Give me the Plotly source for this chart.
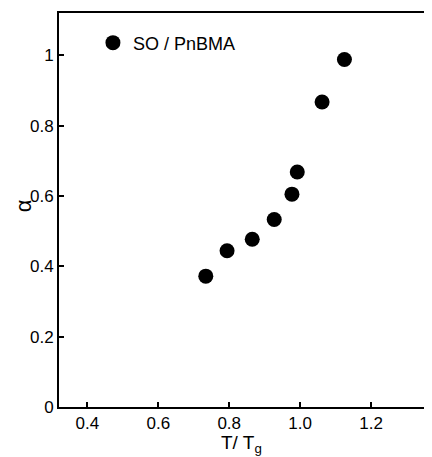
import plotly.graph_objects as go

t_ratio = [0.734, 0.794, 0.865, 0.927, 0.977, 0.992, 1.062, 1.125]
alpha = [0.372, 0.444, 0.477, 0.533, 0.605, 0.668, 0.867, 0.988]
series_name = "SO / PnBMA"

x_tickvals = [0.4, 0.6, 0.8, 1.0, 1.2]
x_ticktext = ["0.4", "0.6", "0.8", "1.0", "1.2"]
y_tickvals = [0, 0.2, 0.4, 0.6, 0.8, 1.0]
y_ticktext = ["0", "0.2", "0.4", "0.6", "0.8", "1"]

font_family = "Liberation Sans Narrow, Liberation Sans, Arial, sans-serif"

fig = go.Figure()
fig.add_trace(go.Scatter(
    x=t_ratio, y=alpha, mode="markers", name=series_name,
    marker=dict(color="black", size=15, line=dict(width=0)),
))

# page body has an 8px default margin, so the figure is offset by 8px
fig.update_layout(
    width=432, height=449,
    margin=dict(l=51, r=8, t=5, b=50),
    paper_bgcolor="white", plot_bgcolor="white",
    font=dict(family=font_family, size=17, color="black"),
    showlegend=True,
    legend=dict(x=0.091, y=0.924, xanchor="left", yanchor="middle",
                bgcolor="rgba(0,0,0,0)", font=dict(size=18)),
    xaxis=dict(
        range=[0.32, 1.372], tickvals=x_tickvals, ticktext=x_ticktext,
        showgrid=False, zeroline=False, showline=True, linecolor="black",
        linewidth=2, mirror=True, ticks="inside", ticklen=5, tickwidth=2,
        tickcolor="black", automargin=False,
    ),
    yaxis=dict(
        range=[0, 1.12], tickvals=y_tickvals, ticktext=y_ticktext,
        showgrid=False, zeroline=False, showline=True, linecolor="black",
        linewidth=2, ticks="inside", ticklen=5, tickwidth=2,
        tickcolor="black", automargin=False,
    ),
    annotations=[
        dict(text="T/ T<sub>g</sub>", xref="paper", yref="paper",
             x=0.49, y=-0.095, xanchor="center", yanchor="middle",
             showarrow=False, font=dict(size=19)),
        dict(text="α", xref="paper", yref="paper",
             x=-0.135, y=0.51, xanchor="left", yanchor="middle",
             textangle=-90, showarrow=False, font=dict(size=22)),
    ],
)

fig.write_html("out.html")
